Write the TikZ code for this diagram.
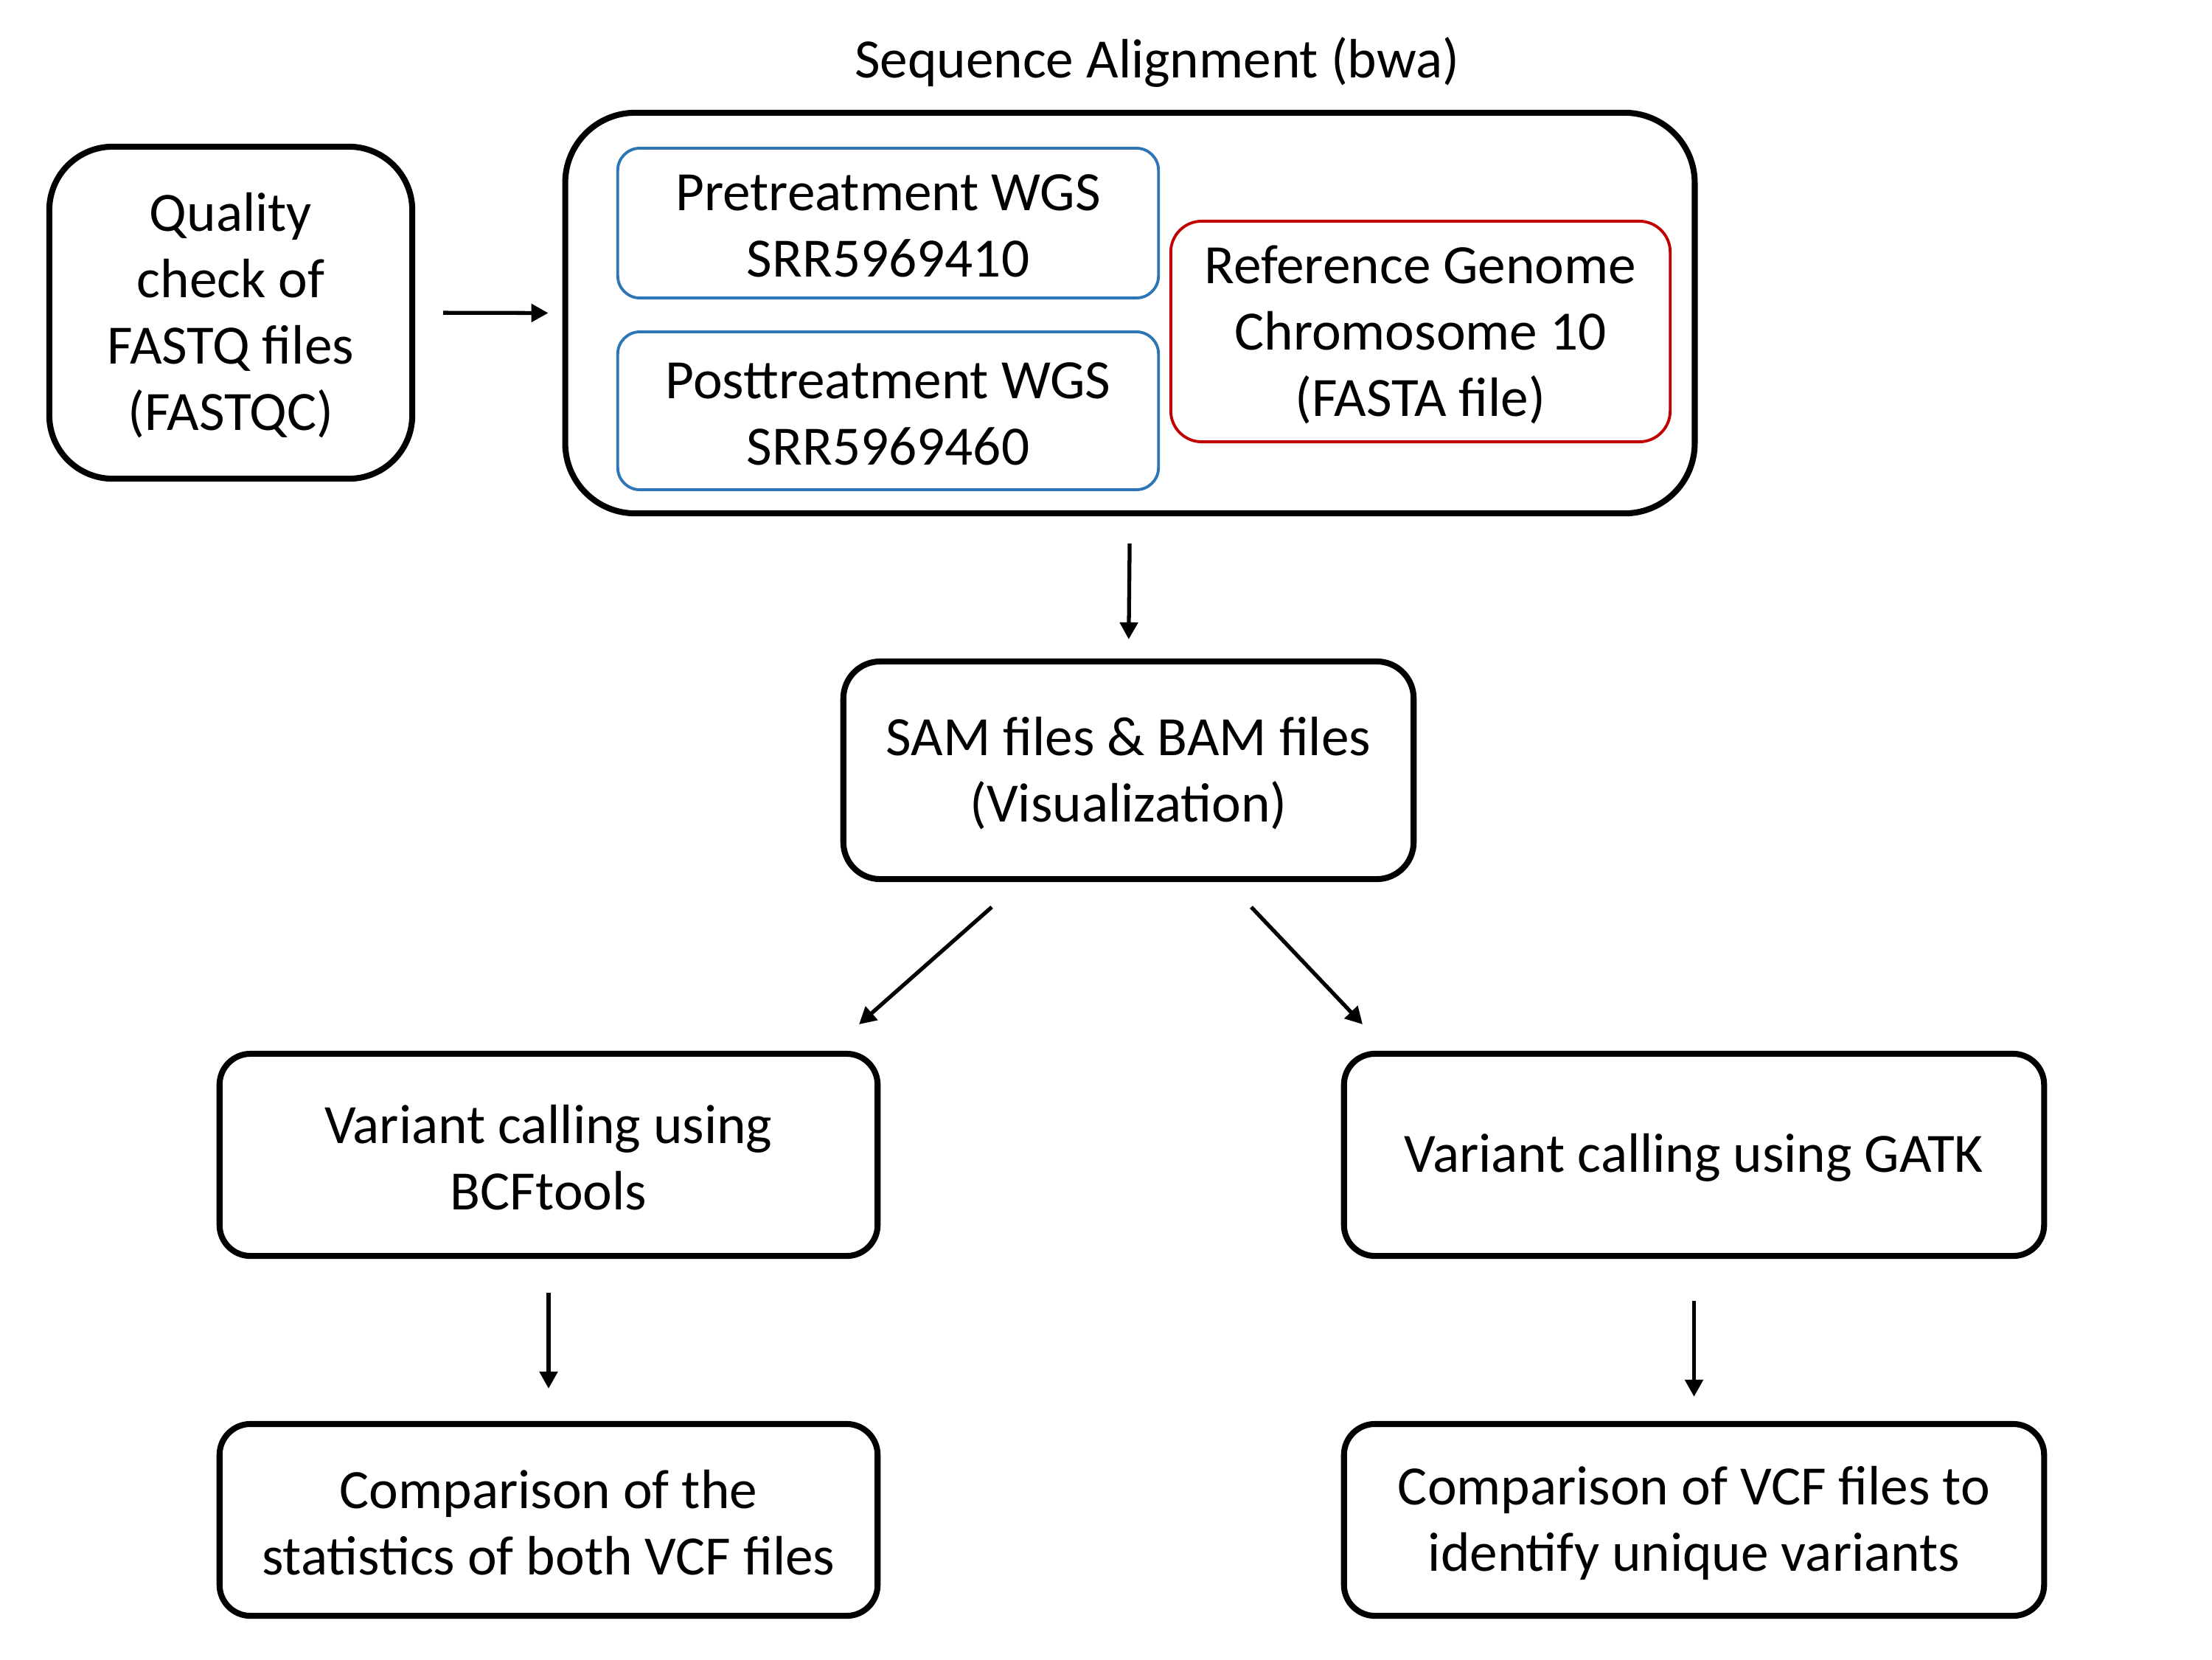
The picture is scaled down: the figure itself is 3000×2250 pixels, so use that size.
\documentclass[tikz,border=0pt]{standalone}
\usepackage{fontspec}
\setmainfont{Carlito}
\usetikzlibrary{arrows.meta}
\definecolor{boxblue}{RGB}{46,117,182}
\definecolor{boxred}{RGB}{192,0,0}
\begin{document}
\begin{tikzpicture}[x=0.01cm,y=-0.01cm,
  every node/.style={font=\fontsize{21.4}{25.6}\selectfont, align=center, inner sep=0pt, outer sep=0pt},
  tlab/.style={yshift=-0.04cm},
  tx/.style={label={[tlab]center:{#1}}},
  blackbox/.style={draw=black, line width=2.3pt, rectangle, rounded corners=#1},
  blackbox/.default=0.45cm,
  bluebox/.style={draw=boxblue, line width=1.1pt, rectangle, rounded corners=0.3cm},
  redbox/.style={draw=boxred, line width=1.1pt, rectangle, rounded corners=0.42cm},
  arr/.style={line width=1.5pt, -{Triangle[length=0.23cm,width=0.24cm]}}
]
\useasboundingbox (0,0) rectangle (3000,2250);

\node (title) at (1569,84) {Sequence Alignment (bwa)};

\node[blackbox=0.86cm, minimum width=4.92cm, minimum height=4.50cm,
  tx={Quality\\check of\\FASTQ files\\(FASTQC)}] (q) at (313,424) {};

\node[blackbox=0.95cm, minimum width=15.31cm, minimum height=5.43cm] (big) at (1532.5,424.5) {};

\node[bluebox, minimum width=7.33cm, minimum height=2.03cm,
  tx={Pretreatment WGS\\SRR5969410}] (pre) at (1204.5,302.5) {};
\node[bluebox, minimum width=7.33cm, minimum height=2.14cm,
  tx={Posttreatment WGS\\SRR5969460}] (post) at (1204.5,557) {};
\node[redbox, minimum width=6.77cm, minimum height=2.99cm,
  tx={Reference Genome\\Chromosome 10\\(FASTA file)}] (ref) at (1926.5,449.5) {};

\node[blackbox=0.5cm, minimum width=7.73cm, minimum height=2.95cm,
  tx={SAM files \& BAM files\\(Visualization)}] (sam) at (1530.5,1044.5) {};

\node[blackbox=0.42cm, minimum width=8.92cm, minimum height=2.74cm,
  tx={Variant calling using\\BCFtools}] (bcf) at (744,1566) {};
\node[blackbox=0.42cm, minimum width=9.49cm, minimum height=2.74cm,
  tx={Variant calling using GATK}] (gatk) at (2297.5,1566) {};

\node[blackbox=0.42cm, minimum width=8.92cm, minimum height=2.60cm,
  tx={Comparison of the\\statistics of both VCF files}] (cmpl) at (744,2061) {};
\node[blackbox=0.42cm, minimum width=9.49cm, minimum height=2.60cm,
  tx={Comparison of VCF files to\\identify unique variants}] (cmpr) at (2297.5,2061) {};

\draw[arr, shorten <=0.42cm, shorten >=0.23cm] (q.east) -- (big.west);
\draw[arr, shorten <=0.41cm, shorten >=0.30cm] (big.south) -- (sam.north);

\coordinate (d1s) at (1345,1230);
\coordinate (d1e) at (1165,1389);
\coordinate (d2s) at (1697,1230);
\coordinate (d2e) at (1848,1389);
\draw[arr] (d1s) -- (d1e);
\draw[arr] (d2s) -- (d2e);

\draw[arr, shorten <=0.50cm, shorten >=0.48cm] (bcf.south) -- (cmpl.north);
\draw[arr, shorten <=0.61cm, shorten >=0.37cm] (gatk.south) -- (cmpr.north);
\end{tikzpicture}
\end{document}
